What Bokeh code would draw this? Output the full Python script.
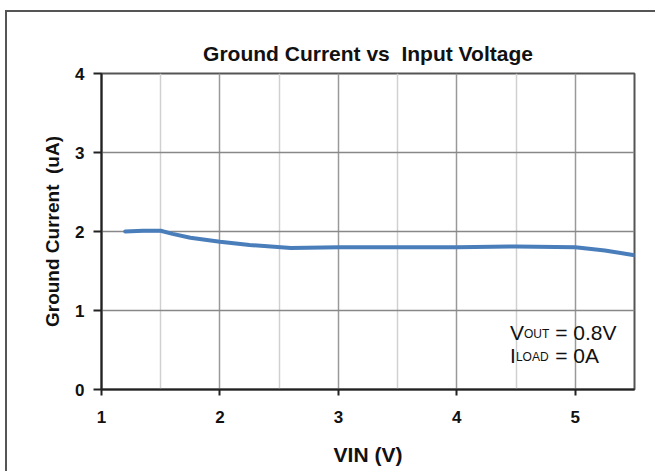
from bokeh.plotting import figure
from bokeh.models import Label, Range1d, FixedTicker
from bokeh.embed import file_html
from bokeh.resources import INLINE

# ---- data ----
vin = [1.2, 1.35, 1.5, 1.6, 1.75, 2.0, 2.25, 2.6, 3.0, 3.5, 4.0, 4.5, 5.0, 5.25, 5.5]
ignd = [2.00, 2.01, 2.01, 1.97, 1.92, 1.87, 1.83, 1.79, 1.80, 1.80, 1.80, 1.81, 1.80, 1.76, 1.70]
x_ticks = [1, 2, 3, 4, 5]
x_minor = [1.5, 2.5, 3.5, 4.5]
y_ticks = [0, 1, 2, 3, 4]

FONT = "Liberation Sans"
NB = "\u00a0"

p = figure(width=650, height=461, output_backend="svg", toolbar_location=None,
           x_range=Range1d(1, 5.5), y_range=Range1d(0, 4),
           min_border_left=94, min_border_right=23, min_border_top=61, min_border_bottom=84,
           styles={"margin-left": "5px", "margin-top": "10px",
                   "border-left": "2px solid #555555", "border-top": "2px solid #555555"})

p.title.text = "Ground Current vs" + NB + NB + "Input Voltage"
p.title.align = "center"
p.title.text_font = FONT
p.title.text_font_size = "21px"
p.title.text_font_style = "bold"
p.title.text_color = "#111111"
p.title.standoff = 18

# frame
p.outline_line_color = "#555555"
p.outline_line_width = 2
p.background_fill_color = "white"
p.border_fill_color = "white"

# x axis
xa = p.xaxis[0]
xa.ticker = FixedTicker(ticks=x_ticks, minor_ticks=x_minor)
xa.axis_line_color = "#222222"
xa.axis_line_width = 2
xa.major_tick_line_color = "#222222"
xa.major_tick_line_width = 2
xa.major_tick_out = 6
xa.major_tick_in = 0
xa.minor_tick_out = 0
xa.minor_tick_in = 0
xa.major_label_text_font = FONT
xa.major_label_text_font_size = "17px"
xa.major_label_text_font_style = "bold"
xa.major_label_text_color = "#111111"
xa.major_label_standoff = 15
xa.axis_label = "VIN (V)"
xa.axis_label_text_font = FONT
xa.axis_label_text_font_size = "21px"
xa.axis_label_text_font_style = "bold"
xa.axis_label_text_color = "#111111"
xa.axis_label_standoff = 17

# y axis
ya = p.yaxis[0]
ya.ticker = FixedTicker(ticks=y_ticks)
ya.axis_line_color = "#222222"
ya.axis_line_width = 2
ya.major_tick_line_color = "#222222"
ya.major_tick_line_width = 2
ya.major_tick_out = 8
ya.major_tick_in = 0
ya.minor_tick_out = 0
ya.minor_tick_in = 0
ya.major_label_text_font = FONT
ya.major_label_text_font_size = "17px"
ya.major_label_text_font_style = "bold"
ya.major_label_text_color = "#111111"
ya.major_label_standoff = 9
ya.axis_label = "Ground Current" + NB + NB + "(uA)"
ya.axis_label_text_font = FONT
ya.axis_label_text_font_size = "19px"
ya.axis_label_text_font_style = "bold"
ya.axis_label_text_color = "#111111"
ya.axis_label_standoff = 9

# grids
p.xgrid.grid_line_color = "#999999"
p.xgrid.grid_line_width = 1.5
p.xgrid.minor_grid_line_color = "#d0d0d0"
p.xgrid.minor_grid_line_width = 1.5
p.ygrid.grid_line_color = "#888888"
p.ygrid.grid_line_width = 1.5

# curve
p.line(vin, ignd, line_color="#4a7ebb", line_width=4, line_join="round", line_cap="round")

# annotation (V_OUT / I_LOAD)
def lab(x, y, text, size):
    p.add_layout(Label(x=x, y=y, text=text, text_font=FONT, text_font_size=size,
                       text_color="#111111", text_baseline="alphabetic", text_align="left"))

lab(4.449, 0.727, "V", "21px")
lab(4.567, 0.705, "OUT", "12px")
lab(4.830, 0.727, "=" + NB + "0.8V", "21px")
lab(4.449, 0.430, "I", "21px")
lab(4.499, 0.408, "LOAD", "12px")
lab(4.830, 0.430, "=" + NB + "0A", "21px")

open("out.html", "w").write(file_html(p, INLINE))
